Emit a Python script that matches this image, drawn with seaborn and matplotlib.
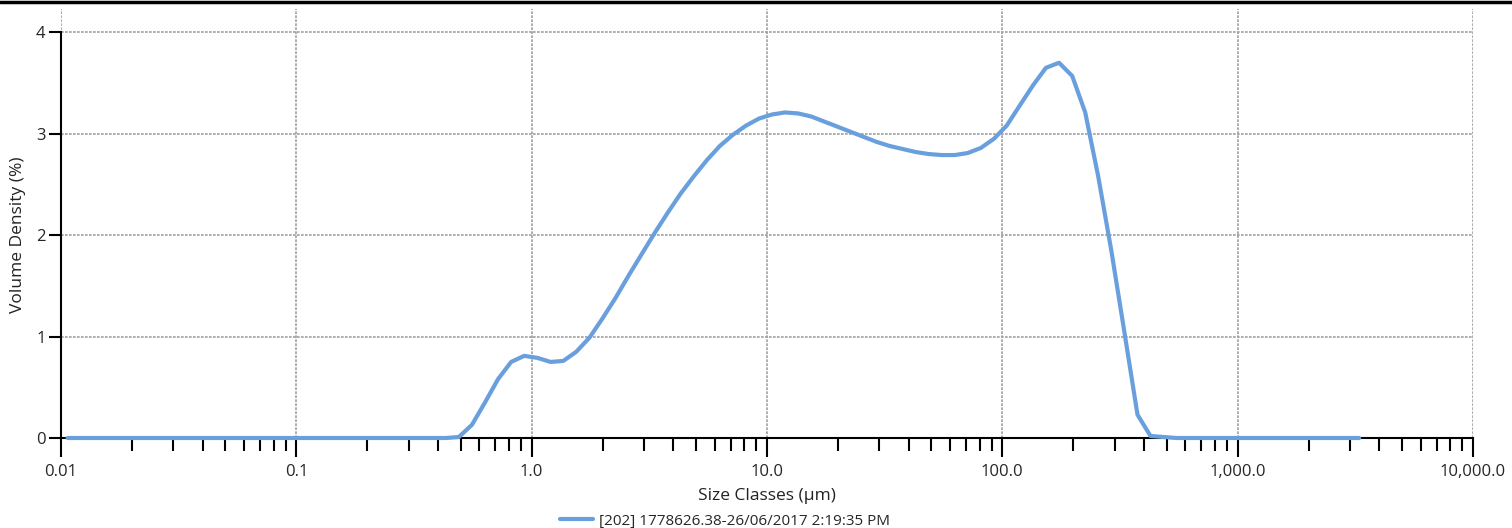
import numpy as np
import pandas as pd
import matplotlib
matplotlib.use("Agg")
import matplotlib.pyplot as plt
from matplotlib.lines import Line2D
from matplotlib.ticker import FixedLocator, LogLocator, NullFormatter
import seaborn as sns

# Laser-diffraction size class edges (µm)
size_edges = [
    0.0100, 0.0114, 0.0129, 0.0147, 0.0167, 0.0189, 0.0215, 0.0244, 0.0278, 0.0315,
    0.0358, 0.0407, 0.0463, 0.0526, 0.0597, 0.0679, 0.0771, 0.0876, 0.0995, 0.113,
    0.128, 0.146, 0.166, 0.188, 0.214, 0.243, 0.276, 0.314, 0.357, 0.405,
    0.460, 0.523, 0.594, 0.675, 0.767, 0.872, 0.991, 1.13, 1.28, 1.45,
    1.65, 1.88, 2.13, 2.42, 2.75, 3.12, 3.55, 4.03, 4.58, 5.21,
    5.92, 6.72, 7.64, 8.68, 9.86, 11.2, 12.7, 14.5, 16.4, 18.7,
    21.2, 24.1, 27.4, 31.1, 35.3, 40.1, 45.6, 51.8, 58.9, 66.9,
    76.0, 86.4, 98.1, 111, 127, 144, 163, 186, 211, 240,
    272, 310, 352, 400, 454, 516, 586, 666, 756, 859,
    976, 1110, 1260, 1430, 1630, 1850, 2100, 2390, 2710, 3080,
    3500,
]

# Volume density (%) per size class
volume_density = [
    0.0, 0.0, 0.0, 0.0, 0.0, 0.0, 0.0, 0.0, 0.0, 0.0,
    0.0, 0.0, 0.0, 0.0, 0.0, 0.0, 0.0, 0.0, 0.0, 0.0,
    0.0, 0.0, 0.0, 0.0, 0.0, 0.0, 0.0, 0.0, 0.0, 0.0,
    0.01, 0.13, 0.35, 0.58, 0.75, 0.81, 0.79, 0.75, 0.76, 0.85,
    0.99, 1.18, 1.38, 1.60, 1.81, 2.02, 2.22, 2.41, 2.58, 2.74,
    2.88, 2.99, 3.08, 3.15, 3.19, 3.21, 3.20, 3.17, 3.12, 3.07,
    3.02, 2.97, 2.92, 2.88, 2.85, 2.82, 2.80, 2.79, 2.79, 2.81,
    2.86, 2.95, 3.08, 3.28, 3.48, 3.65, 3.70, 3.57, 3.21, 2.58,
    1.85, 1.04, 0.23, 0.02, 0.01, 0.0, 0.0, 0.0, 0.0, 0.0,
    0.0, 0.0, 0.0, 0.0, 0.0, 0.0, 0.0, 0.0, 0.0, 0.0,
]

series_label = "[202] 1778626.38-26/06/2017 2:19:35 PM"

x_ticks = [0.01, 0.1, 1, 10, 100, 1000, 10000]
x_tick_labels = ["0.01", "0.1", "1.0", "10.0", "100.0", "1,000.0", "10,000.0"]
y_ticks = [0, 1, 2, 3, 4]
y_tick_labels = ["0", "1", "2", "3", "4"]

edges = np.array(size_edges)
centers = np.sqrt(edges[:-1] * edges[1:])
df = pd.DataFrame({"size": centers, "density": volume_density, "run": series_label})

sns.set_style("white")
plt.rcParams["font.family"] = ["Open Sans", "DejaVu Sans"]

fig = plt.figure(figsize=(15.12, 5.28), dpi=100)
ax = fig.add_axes([61 / 1512, 90 / 528, (1473 - 61) / 1512, (519 - 90) / 528])

line_color = "#6a9fde"
sns.lineplot(data=df, x="size", y="density", hue="run", palette=[line_color],
             linewidth=3.0, ax=ax, legend=False, zorder=4, clip_on=False)

ax.set_xscale("log")
ax.set_xlim(0.01, 10000)
ax.set_ylim(0, 4.23)

grid_kw = dict(color="#a0a0a0", linestyle=(0, (1.6, 0.8)), linewidth=1.2)
ax.xaxis.set_major_locator(FixedLocator(x_ticks))
ax.xaxis.set_minor_locator(LogLocator(base=10, subs=np.arange(2, 10)))
ax.xaxis.set_minor_formatter(NullFormatter())
ax.set_xticklabels(x_tick_labels)
ax.set_yticks(y_ticks)
ax.set_yticklabels(y_tick_labels)
ax.grid(True, which="major", axis="both", **grid_kw)
ax.set_axisbelow(True)

for side in ("top", "right"):
    ax.spines[side].set_visible(False)
for side in ("left", "bottom"):
    ax.spines[side].set_color("black")
    ax.spines[side].set_linewidth(1.5)
ax.spines["left"].set_bounds(0, 4)

ax.tick_params(axis="x", which="major", direction="out", length=14, width=1.5,
               color="black", labelsize=12, pad=5, bottom=True)
ax.tick_params(axis="x", which="minor", direction="out", length=9, width=1.5,
               color="black", bottom=True)
ax.tick_params(axis="y", which="major", direction="out", length=9, width=1.5,
               color="black", labelsize=12, pad=2, left=True)

ax.set_xlabel("Size Classes (µm)", fontsize=12.5, color="#222222")
ax.xaxis.set_label_coords(0.5, -0.117)
ax.set_ylabel("Volume Density (%)", fontsize=12.5, color="#222222")
ax.yaxis.set_label_coords(-0.0248, 2 / 4.23)

handle = Line2D([], [], color=line_color, linewidth=3.0)
fig.legend([handle], [series_label], loc="center", bbox_to_anchor=(725 / 1512, 7 / 528),
           frameon=False, fontsize=11, handlelength=2.2, handletextpad=0.4,
           borderpad=0, borderaxespad=0)

# Header rule along the top edge
fig.add_artist(Line2D([0, 1], [0.997, 0.997], transform=fig.transFigure,
                      color="black", linewidth=2.5))

fig.savefig("out.png", dpi=100)
